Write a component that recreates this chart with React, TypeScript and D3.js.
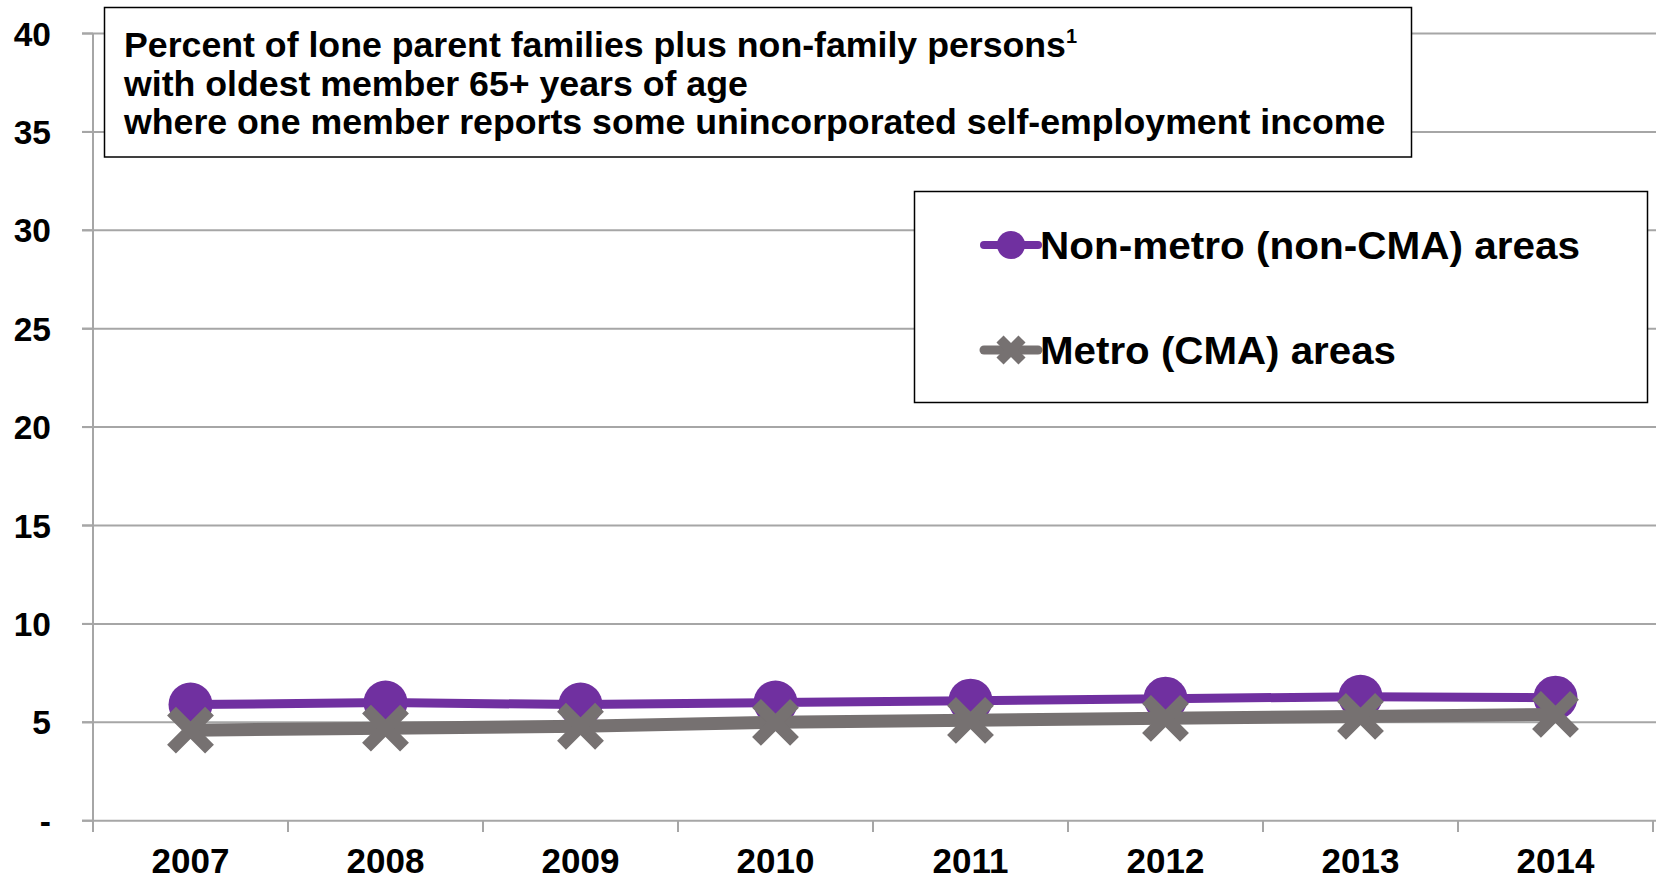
import React from "react";
import * as d3 from "d3";

const years = ["2007", "2008", "2009", "2010", "2011", "2012", "2013", "2014"];
const nonMetro = [5.9, 6.0, 5.9, 6.0, 6.1, 6.2, 6.3, 6.25];
const metro = [4.6, 4.7, 4.8, 5.0, 5.1, 5.2, 5.3, 5.4];
const yTicks = [0, 5, 10, 15, 20, 25, 30, 35, 40];
const yTickLabels = ["-", "5", "10", "15", "20", "25", "30", "35", "40"];
const titleLines = [
  "Percent of lone parent families plus non-family persons",
  "with oldest member 65+ years of age",
  "where one member reports some unincorporated self-employment income",
];
const legendLabels = ["Non-metro (non-CMA) areas", "Metro (CMA) areas"];

const W = 1659;
const H = 878;
const PURPLE = "#7030A0";
const GRAY = "#767171";
const GRID = "#a6a6a6";
const FONT = "'Liberation Sans', Arial, sans-serif";

export default function App() {
  const x = d3.scaleBand<string>().domain(years).range([93, 1653]).padding(0);
  const cx = (y: string) => (x(y) as number) + x.bandwidth() / 2;
  const y = d3.scaleLinear().domain([0, 40]).range([820.7, 33.5]);

  const lineGen = d3
    .line<number>()
    .x((_, i) => cx(years[i]))
    .y((d) => y(d));

  const xMark = (px: number, py: number, s: number) =>
    `M${px - s},${py - s}L${px + s},${py + s}M${px - s},${py + s}L${px + s},${py - s}`;

  const boundaries = d3.range(years.length + 1).map((i) => 93 + i * x.bandwidth());

  return (
    <svg
      width={W}
      height={H}
      style={{ position: "absolute", left: 0, top: 0, background: "#fff" }}
      fontFamily={FONT}
    >
      <rect x={0} y={0} width={W} height={H} fill="#fff" />
      {/* gridlines & y ticks */}
      {yTicks.map((t, i) => (
        <g key={t}>
          {t > 0 && (
            <line x1={82} x2={1656} y1={y(t)} y2={y(t)} stroke={GRID} strokeWidth={2} />
          )}
          <line x1={82} x2={93} y1={y(t)} y2={y(t)} stroke={GRID} strokeWidth={2} />
          <text
            x={51}
            y={y(t)}
            dy="0.36em"
            textAnchor="end"
            fontSize={33.5}
            fontWeight="bold"
            fill="#000"
          >
            {yTickLabels[i]}
          </text>
        </g>
      ))}
      {/* axes */}
      <line x1={93} x2={93} y1={y(40)} y2={832} stroke={GRID} strokeWidth={2} />
      <line x1={82} x2={1656} y1={y(0)} y2={y(0)} stroke={GRID} strokeWidth={2} />
      {boundaries.map((b, i) => (
        <line key={i} x1={b} x2={b} y1={y(0)} y2={832} stroke={GRID} strokeWidth={2} />
      ))}
      {years.map((yr) => (
        <text
          key={yr}
          x={cx(yr)}
          y={873}
          textAnchor="middle"
          fontSize={35}
          fontWeight="bold"
          fill="#000"
        >
          {yr}
        </text>
      ))}

      {/* title box */}
      <rect x={104.5} y={7.5} width={1307} height={149.5} fill="#fff" stroke="#000" strokeWidth={1.5} />
      {titleLines.map((l, i) => (
        <text key={i} x={124} y={57 + i * 38.5} fontSize={35.7} fontWeight="bold" fill="#000">
          {l}
          {i === 0 && (
            <tspan fontSize={20} dy={-14}>
              1
            </tspan>
          )}
        </text>
      ))}

      {/* series */}
      <path d={lineGen(nonMetro) || ""} fill="none" stroke={PURPLE} strokeWidth={9} />
      {nonMetro.map((v, i) => (
        <circle key={i} cx={cx(years[i])} cy={y(v)} r={22} fill={PURPLE} />
      ))}
      <path d={lineGen(metro) || ""} fill="none" stroke={GRAY} strokeWidth={13} />
      {metro.map((v, i) => (
        <path key={i} d={xMark(cx(years[i]), y(v), 19)} stroke={GRAY} strokeWidth={12.5} fill="none" />
      ))}

      {/* legend */}
      <rect x={914.5} y={191.5} width={733} height={211} fill="#fff" stroke="#000" strokeWidth={1.5} />
      <line x1={984} x2={1038} y1={245} y2={245} stroke={PURPLE} strokeWidth={8} strokeLinecap="round" />
      <circle cx={1011} cy={245} r={14} fill={PURPLE} />
      <text
        x={1040}
        y={259}
        fontSize={39}
        fontWeight="bold"
        fill="#000"
        textLength={540}
        lengthAdjust="spacingAndGlyphs"
      >
        {legendLabels[0]}
      </text>
      <line x1={984} x2={1038} y1={350} y2={350} stroke={GRAY} strokeWidth={9} strokeLinecap="round" />
      <path d={xMark(1011, 350, 11)} stroke={GRAY} strokeWidth={10} fill="none" />
      <text
        x={1040}
        y={364}
        fontSize={39}
        fontWeight="bold"
        fill="#000"
        textLength={356}
        lengthAdjust="spacingAndGlyphs"
      >
        {legendLabels[1]}
      </text>
    </svg>
  );
}
